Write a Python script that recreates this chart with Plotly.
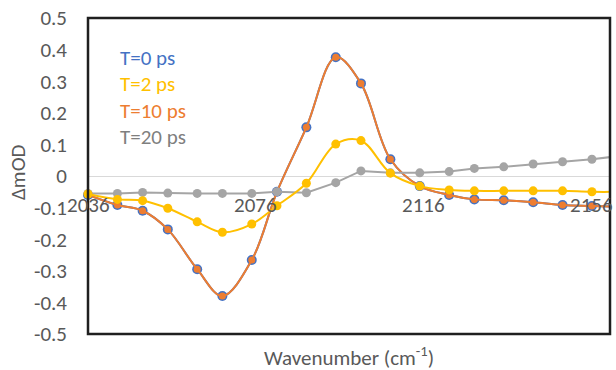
import plotly.graph_objects as go

# Wavenumber axis positions (cm^-1)
wavenumber = [2036, 2043, 2049, 2055, 2062, 2068, 2075, 2081, 2088, 2095,
              2101, 2108, 2115, 2122, 2128, 2135, 2142, 2149, 2156, 2163]

# Delta mOD for each delay time
t0 = [-0.060, -0.092, -0.110, -0.169, -0.295, -0.380, -0.266, -0.050, 0.154, 0.376,
      0.293, 0.053, -0.032, -0.060, -0.074, -0.077, -0.083, -0.092, -0.095, -0.098]
t2 = [-0.057, -0.074, -0.078, -0.102, -0.145, -0.178, -0.152, -0.094, -0.023, 0.101,
      0.112, 0.009, -0.032, -0.044, -0.047, -0.047, -0.047, -0.047, -0.050, -0.050]
t10 = [-0.060, -0.092, -0.110, -0.169, -0.295, -0.380, -0.266, -0.050, 0.154, 0.376,
       0.293, 0.053, -0.032, -0.060, -0.074, -0.077, -0.083, -0.092, -0.095, -0.098]
t20 = [-0.055, -0.055, -0.052, -0.054, -0.055, -0.055, -0.055, -0.050, -0.053, -0.021,
       0.016, 0.010, 0.010, 0.014, 0.024, 0.029, 0.038, 0.045, 0.053, 0.064]

series_names = ["T=0 ps", "T=2 ps", "T=10 ps", "T=20 ps"]
series_colors = ["#4472C4", "#FFC000", "#ED7D31", "#A5A5A5"]
label_colors = ["#4472C4", "#FFC000", "#ED7D31", "#7F7F7F"]

x_tick_vals = [2036, 2076, 2116, 2156]
x_tick_text = ["2036", "2076", "2116", "2156"]
y_tick_vals = [0.5, 0.4, 0.3, 0.2, 0.1, 0, -0.1, -0.2, -0.3, -0.4, -0.5]
y_tick_text = ["0.5", "0.4", "0.3", "0.2", "0.1", "0", "-0.1", "-0.2", "-0.3", "-0.4", "-0.5"]

FONT = "Calibri, Carlito, Lato, sans-serif"
TEXT_GREY = "#595959"
FSIZE = 21

fig = go.Figure()

def add_series(y, idx, msize, shape):
    fig.add_trace(go.Scatter(
        x=wavenumber, y=y, name=series_names[idx], mode="lines+markers",
        line=dict(color=series_colors[idx], width=2, shape=shape, smoothing=1),
        marker=dict(color=series_colors[idx], size=msize),
        cliponaxis=False, showlegend=False,
    ))

# drawing order: blue underneath, yellow on top
add_series(t0, 0, 10, "spline")
add_series(t10, 2, 7, "spline")
add_series(t20, 3, 9, "linear")
add_series(t2, 1, 9, "spline")

# horizontal axis labels sit just under the zero line
for v, t in zip(x_tick_vals, x_tick_text):
    fig.add_annotation(x=v, y=-0.092, xref="x", yref="y", text=t, showarrow=False,
                       xanchor="center", yanchor="middle",
                       font=dict(family=FONT, size=FSIZE, color=TEXT_GREY))

# in-plot legend made of coloured text
for i, (name, col) in enumerate(zip(series_names, label_colors)):
    fig.add_annotation(x=0.057, y=1 - (40 + 26.3 * i) / 316, xref="paper", yref="paper",
                       text=name, showarrow=False, xanchor="left", yanchor="middle",
                       font=dict(family=FONT, size=FSIZE, color=col))

# axis titles
fig.add_annotation(x=0.5, y=0, xref="paper", yref="paper", yshift=-22, borderpad=0,
                   text="Wavenumber (cm<sup>-1</sup>)", showarrow=False,
                   xanchor="center", yanchor="middle",
                   font=dict(family=FONT, size=FSIZE, color=TEXT_GREY))
fig.add_annotation(x=0, y=0.5, xref="paper", yref="paper", xshift=-70, yshift=4,
                   text="ΔmOD", showarrow=False, textangle=-90,
                   xanchor="center", yanchor="middle",
                   font=dict(family=FONT, size=FSIZE, color=TEXT_GREY))

# plot frame
fig.add_shape(type="rect", xref="paper", yref="paper", x0=0, y0=0, x1=1, y1=1,
              line=dict(color="#1F1F1F", width=2.5), layer="above")

fig.update_layout(
    width=616, height=370,
    margin=dict(l=88, r=6, t=18, b=36),
    paper_bgcolor="white", plot_bgcolor="white",
    font=dict(family=FONT, color=TEXT_GREY),
    xaxis=dict(range=[2036, 2160.3], showgrid=False, zeroline=False,
               showticklabels=False, ticks="", showline=False),
    yaxis=dict(range=[-0.5, 0.5], tickvals=y_tick_vals, ticktext=y_tick_text,
               showgrid=False, zeroline=True, zerolinecolor="#D9D9D9", zerolinewidth=1,
               ticks="", showline=False, ticklabelstandoff=20,
               tickfont=dict(family=FONT, size=FSIZE, color=TEXT_GREY)),
)

fig.write_html("out.html")
